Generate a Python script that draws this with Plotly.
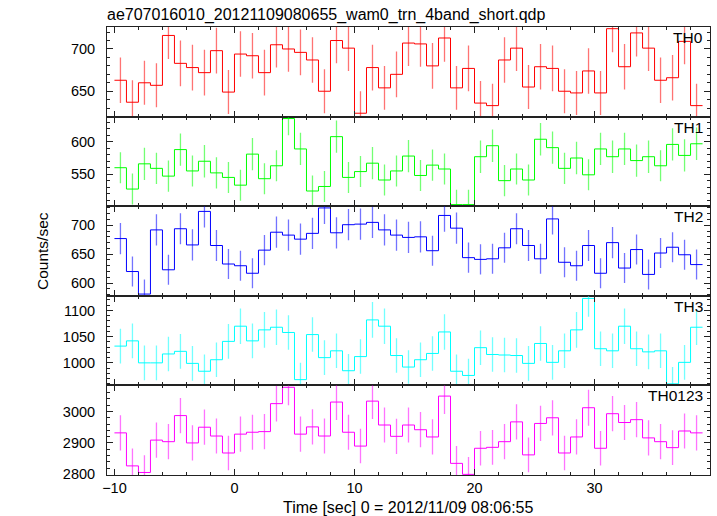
import plotly.graph_objects as go
from plotly.subplots import make_subplots

title_text = "ae707016010_20121109080655_wam0_trn_4band_short.qdp"
x_title = "Time [sec] 0 = 2012/11/09 08:06:55"
y_title = "Counts/sec"

# bin centres (1-s bins)
time_bins = [-9.5 + i for i in range(49)]
bin_half = 0.5

th0 = [663, 637, 660, 657, 716, 683, 678, 672, 698, 649,
       694, 692, 672, 705, 700, 696, 687, 650, 710, 701,
       624, 678, 654, 670, 707, 706, 680, 713, 654, 677,
       636, 633, 687, 701, 655, 679, 677, 650, 648, 674,
       648, 724, 679, 719, 701, 663, 666, 709, 633]
th0_err = [27, 26, 26, 26, 28, 27, 27, 27, 27, 26,
           27, 27, 27, 27, 27, 27, 27, 26, 27, 27,
           26, 27, 26, 27, 27, 27, 27, 28, 26, 27,
           26, 26, 27, 27, 26, 27, 27, 26, 26, 27,
           26, 28, 27, 28, 27, 27, 27, 27, 26]

th1 = [560, 527, 566, 559, 547, 588, 555, 570, 552, 545,
       533, 581, 543, 563, 636, 589, 524, 531, 608, 545,
       554, 567, 541, 555, 578, 548, 564, 558, 503, 503,
       577, 594, 540, 558, 541, 604, 591, 559, 575, 549,
       589, 577, 589, 571, 577, 563, 596, 579, 597]
th1_err = [24, 24, 25, 24, 24, 25, 24, 25, 24, 24,
           24, 25, 24, 24, 26, 25, 24, 24, 25, 24,
           24, 25, 24, 24, 25, 24, 24, 24, 23, 23,
           25, 25, 24, 24, 24, 25, 25, 24, 25, 24,
           25, 25, 25, 25, 25, 24, 25, 25, 25]

th2 = [677, 620, 581, 692, 623, 694, 666, 724, 665, 633,
       630, 617, 657, 688, 683, 676, 686, 730, 687, 701,
       702, 705, 692, 683, 679, 680, 656, 717, 695, 644,
       641, 642, 661, 694, 665, 642, 711, 636, 630, 665,
       617, 670, 626, 658, 615, 652, 662, 649, 632]
th2_err = [27, 26, 25, 27, 26, 27, 27, 28, 27, 26,
           26, 26, 26, 27, 27, 27, 27, 28, 27, 27,
           27, 27, 27, 27, 27, 27, 26, 28, 27, 26,
           26, 26, 26, 27, 27, 26, 27, 26, 26, 27,
           26, 27, 26, 26, 26, 26, 26, 26, 26]

th3 = [1032, 1042, 1000, 1000, 1017, 1022, 999, 984, 1006, 1041,
       1070, 1042, 1063, 1068, 1058, 968, 1054, 1010, 1023, 985,
       1012, 1082, 1070, 1014, 992, 1006, 1018, 1059, 984, 976,
       1029, 1016, 1015, 1014, 999, 1037, 1001, 1023, 1063, 1123,
       1027, 1023, 1070, 1027, 1021, 1023, 960, 1001, 1068]
th3_err = [33, 33, 33, 33, 33, 33, 33, 32, 33, 33,
           34, 33, 34, 34, 33, 32, 33, 33, 33, 32,
           33, 34, 34, 33, 32, 33, 33, 34, 32, 32,
           33, 33, 33, 33, 33, 33, 33, 33, 34, 35,
           33, 33, 34, 33, 33, 33, 32, 33, 34]

th0123 = [2932, 2827, 2806, 2909, 2904, 2987, 2900, 2950, 2922, 2868,
          2928, 2934, 2936, 3025, 3077, 2928, 2951, 2922, 3030, 2934,
          2890, 3033, 2957, 2921, 2957, 2942, 2919, 3049, 2835, 2800,
          2883, 2886, 2904, 2967, 2862, 2962, 2980, 2868, 2919, 3012,
          2883, 2993, 2965, 2974, 2916, 2904, 2885, 2938, 2932]
th0123_err = [56, 55, 55, 56, 56, 56, 56, 56, 56, 55,
              56, 56, 56, 57, 57, 56, 56, 56, 57, 56,
              55, 57, 56, 56, 56, 56, 56, 57, 55, 55,
              55, 55, 56, 56, 55, 56, 56, 55, 56, 57,
              55, 56, 56, 56, 56, 56, 55, 56, 56]

panel_names = ["TH0", "TH1", "TH2", "TH3", "TH0123"]
panel_values = [th0, th1, th2, th3, th0123]
panel_errors = [th0_err, th1_err, th2_err, th3_err, th0123_err]
panel_colors = ["#ff0000", "#00ff00", "#0000ff", "#00ffff", "#ff00ff"]
err_colors = ["rgba(255,0,0,0.55)", "rgba(0,255,0,0.55)", "rgba(0,0,255,0.55)",
              "rgba(0,255,255,0.55)", "rgba(255,0,255,0.55)"]
y_ranges = [[620, 726], [500.5, 639], [578, 733], [957, 1128], [2798, 3083]]
y_dticks = [50, 50, 50, 50, 100]
y_minor = [10, 10, 10, 10, 20]
x_range = [-10.62, 39.62]

FONT = "Liberation Sans, Arial, sans-serif"

fig = make_subplots(rows=5, cols=1, shared_xaxes=True, vertical_spacing=0)

for i in range(5):
    vals = panel_values[i]
    errs = panel_errors[i]
    edges = [t - bin_half for t in time_bins] + [time_bins[-1] + bin_half]
    step_y = vals + [vals[-1]]
    fig.add_trace(go.Scatter(x=time_bins, y=vals, mode="markers",
                             marker=dict(size=0.1, color=panel_colors[i], opacity=0),
                             error_y=dict(type="data", array=errs, visible=True,
                                          color=err_colors[i], thickness=1.3, width=0),
                             showlegend=False, hoverinfo="skip"),
                  row=i + 1, col=1)
    fig.add_trace(go.Scatter(x=edges, y=step_y, mode="lines", line_shape="hv",
                             line=dict(color=panel_colors[i], width=1),
                             showlegend=False),
                  row=i + 1, col=1)
    fig.update_yaxes(range=y_ranges[i], dtick=y_dticks[i], tick0=0,
                     ticks="inside", ticklen=6, tickwidth=1, tickcolor="#222",
                     minor=dict(dtick=y_minor[i], tick0=0, ticks="inside", ticklen=3,
                                tickcolor="#222"),
                     showline=True, linecolor="#222", linewidth=1, mirror="ticks",
                     showgrid=False, zeroline=False, automargin=False,
                     tickfont=dict(family=FONT, size=14.5, color="black"),
                     ticklabelstandoff=8,
                     row=i + 1, col=1)
    fig.update_xaxes(range=x_range, dtick=10, tick0=0,
                     ticks="inside", ticklen=6, tickwidth=1, tickcolor="#222",
                     minor=dict(dtick=2, tick0=0, ticks="inside", ticklen=3, tickcolor="#222"),
                     showline=True, linecolor="#222", linewidth=1, mirror="ticks",
                     showgrid=False, zeroline=False, automargin=False,
                     tickfont=dict(family=FONT, size=14.5, color="black"),
                     row=i + 1, col=1)
    yref = "y domain" if i == 0 else f"y{i + 1} domain"
    fig.add_annotation(text=panel_names[i], xref="paper", x=1, xanchor="right", xshift=-5,
                       yref=yref, y=1, yanchor="top", yshift=0, showarrow=False,
                       font=dict(family=FONT, size=15.5, color="black"))

fig.update_xaxes(showticklabels=True, row=5, col=1)

fig.add_annotation(text=title_text, xref="paper", x=0, xanchor="left", xshift=-2,
                   yref="paper", y=1, yanchor="bottom", yshift=1, showarrow=False,
                   font=dict(family=FONT, size=16, color="black"))
fig.add_annotation(text=x_title, xref="paper", x=0.5, xanchor="center", xshift=-1,
                   yref="paper", y=0, yanchor="top", yshift=-22, showarrow=False,
                   font=dict(family=FONT, size=16, color="black"))
fig.add_annotation(text=y_title, xref="paper", x=0, xanchor="center", xshift=-65,
                   yref="paper", y=0.5, yanchor="middle", textangle=-90, showarrow=False,
                   font=dict(family=FONT, size=15.5, color="black"))

fig.update_layout(width=717, height=516, margin=dict(l=107, r=7, t=27, b=41),
                  plot_bgcolor="white", paper_bgcolor="white", showlegend=False)

fig.write_html("out.html", config={"displayModeBar": False},
               post_script="document.body.style.margin='0';document.body.style.padding='0';")
